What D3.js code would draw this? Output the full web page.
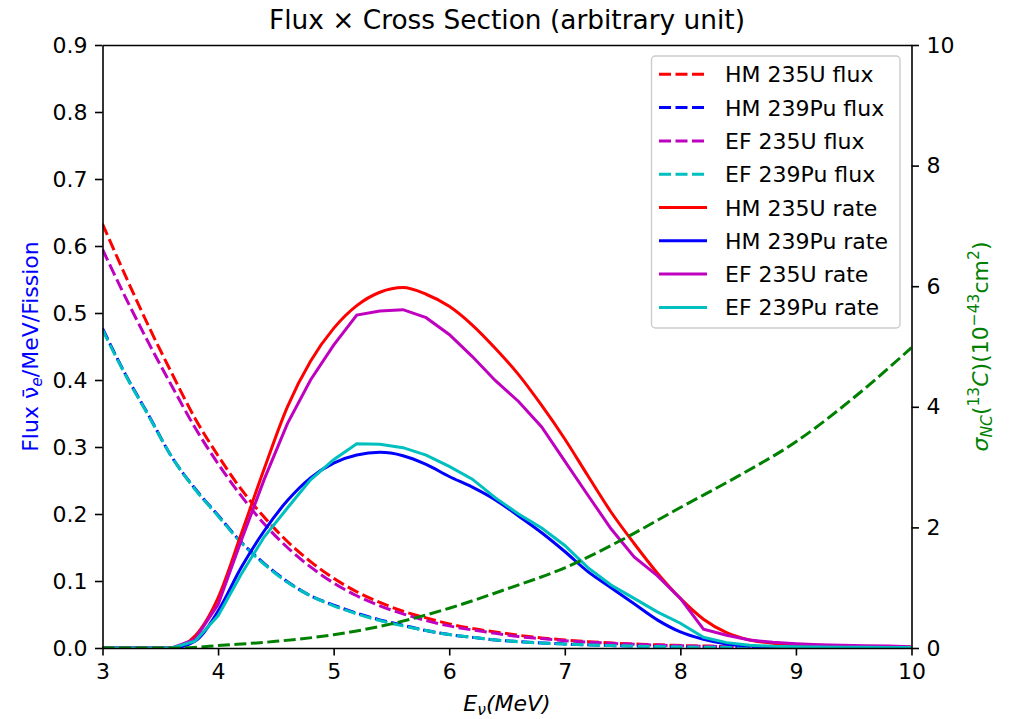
<!DOCTYPE html>
<html>
<head>
<meta charset="utf-8">
<script src="https://cdn.jsdelivr.net/npm/d3@7"></script>
<style>
  body { margin: 0; background: #fff; }
  svg { display: block; font-family: "DejaVu Sans", sans-serif; }
</style>
</head>
<body>
<svg id="chart" width="1009" height="719"></svg>
<script>
// Neutrino energy grid (MeV)
const energies = [3.0, 3.2, 3.4, 3.6, 3.8, 4.0, 4.2, 4.4, 4.6, 4.8, 5.0, 5.2, 5.4, 5.6, 5.8, 6.0,
  6.2, 6.4, 6.6, 6.8, 7.0, 7.2, 7.4, 7.6, 7.8, 8.0, 8.2, 8.4, 8.6, 8.8, 9.0, 9.2, 9.4, 9.6, 9.8, 10.0];

// Antineutrino flux per MeV per fission
const hm235uFlux = [0.633, 0.555, 0.480, 0.410, 0.343, 0.287, 0.237, 0.195, 0.159, 0.129, 0.104, 0.084,
  0.068, 0.055, 0.045, 0.036, 0.029, 0.024, 0.019, 0.015, 0.012, 0.0095, 0.0075, 0.006, 0.0047, 0.0037,
  0.0029, 0.0022, 0.0017, 0.0013, 0.001, 0.0008, 0.0006, 0.0005, 0.0004, 0.0003];
const hm239puFlux = [0.477, 0.408, 0.347, 0.285, 0.238, 0.198, 0.158, 0.126, 0.099, 0.078, 0.064, 0.052,
  0.042, 0.034, 0.026, 0.020, 0.016, 0.012, 0.0095, 0.0075, 0.006, 0.0047, 0.0037, 0.0029, 0.0022, 0.0017,
  0.0013, 0.001, 0.0008, 0.0006, 0.0005, 0.0004, 0.0003, 0.0002, 0.0002, 0.0001];
const ef235uFlux = [0.595, 0.523, 0.455, 0.391, 0.329, 0.275, 0.227, 0.185, 0.150, 0.121, 0.097, 0.078,
  0.063, 0.051, 0.041, 0.033, 0.027, 0.022, 0.017, 0.014, 0.011, 0.0088, 0.007, 0.0055, 0.0043, 0.0034,
  0.0026, 0.002, 0.0016, 0.0012, 0.0009, 0.0007, 0.0006, 0.0005, 0.0004, 0.0003];
const ef239puFlux = [0.475, 0.407, 0.346, 0.285, 0.237, 0.197, 0.157, 0.125, 0.098, 0.078, 0.063, 0.051,
  0.041, 0.033, 0.026, 0.020, 0.016, 0.012, 0.0094, 0.0074, 0.0059, 0.0046, 0.0036, 0.0028, 0.0021, 0.0016,
  0.0012, 0.001, 0.0008, 0.0006, 0.0005, 0.0004, 0.0003, 0.0002, 0.0002, 0.0001];

// Flux x cross section (arbitrary unit)
const hm235uRate = [0, 0, 0, 0, 0.018, 0.075, 0.170, 0.268, 0.360, 0.428, 0.477, 0.511, 0.531, 0.538,
  0.528, 0.510, 0.482, 0.447, 0.408, 0.362, 0.312, 0.257, 0.203, 0.156, 0.112, 0.074, 0.043, 0.023, 0.012,
  0.007, 0.005, 0.004, 0.003, 0.002, 0.0015, 0.001];
const hm239puRate = [0, 0, 0, 0, 0.010, 0.055, 0.120, 0.175, 0.220, 0.254, 0.276, 0.288, 0.292, 0.287,
  0.274, 0.256, 0.240, 0.221, 0.197, 0.172, 0.144, 0.114, 0.090, 0.066, 0.042, 0.024, 0.013, 0.006, 0.003,
  0.0015, 0.001, 0.0008, 0.0006, 0.0005, 0.0004, 0.0003];
const ef235uRate = [0, 0, 0, 0, 0.013, 0.065, 0.160, 0.252, 0.335, 0.400, 0.452, 0.497, 0.503, 0.505,
  0.493, 0.468, 0.435, 0.399, 0.368, 0.330, 0.279, 0.228, 0.178, 0.136, 0.108, 0.074, 0.028, 0.019, 0.012,
  0.0085, 0.0065, 0.005, 0.0042, 0.0035, 0.0028, 0.002];
const ef239puRate = [0, 0, 0, 0, 0.010, 0.048, 0.110, 0.166, 0.209, 0.251, 0.281, 0.305, 0.304, 0.299,
  0.288, 0.271, 0.252, 0.224, 0.200, 0.179, 0.153, 0.120, 0.094, 0.074, 0.054, 0.037, 0.016, 0.008, 0.004,
  0.0025, 0.0018, 0.0015, 0.0012, 0.001, 0.0009, 0.0008];

// NC cross section on 13C (1e-43 cm^2), right axis
const sigmaEnergies = [3.0, 3.5, 3.7, 3.75, 4.0, 4.5, 5.0, 5.5, 6.0, 6.5, 7.0, 7.5, 8.0, 8.5, 9.0, 9.5, 10.0];
const sigmaNC = [0, 0, 0, 0.005, 0.04, 0.11, 0.22, 0.40, 0.66, 0.98, 1.33, 1.80, 2.33, 2.85, 3.42, 4.15, 4.98];

const leftTicks = [0.0, 0.1, 0.2, 0.3, 0.4, 0.5, 0.6, 0.7, 0.8, 0.9];
const rightTicks = [0, 2, 4, 6, 8, 10];
const xTicks = [3, 4, 5, 6, 7, 8, 9, 10];

const series = [
  { label: "HM 235U flux", values: hm235uFlux, color: "#ff0000", dashed: true, curve: d3.curveMonotoneX },
  { label: "HM 239Pu flux", values: hm239puFlux, color: "#0000ff", dashed: true, curve: d3.curveMonotoneX },
  { label: "EF 235U flux", values: ef235uFlux, color: "#bf00bf", dashed: true, curve: d3.curveMonotoneX },
  { label: "EF 239Pu flux", values: ef239puFlux, color: "#00bfbf", dashed: true, curve: d3.curveMonotoneX },
  { label: "HM 235U rate", values: hm235uRate, color: "#ff0000", dashed: false, curve: d3.curveMonotoneX },
  { label: "HM 239Pu rate", values: hm239puRate, color: "#0000ff", dashed: false, curve: d3.curveMonotoneX },
  { label: "EF 235U rate", values: ef235uRate, color: "#bf00bf", dashed: false, curve: d3.curveLinear },
  { label: "EF 239Pu rate", values: ef239puRate, color: "#00bfbf", dashed: false, curve: d3.curveLinear }
];

const svg = d3.select("#chart");
const plotLeft = 102.5, plotRight = 911.5, plotTop = 45, plotBottom = 648;
const x = d3.scaleLinear().domain([3, 10]).range([plotLeft, plotRight]);
const yL = d3.scaleLinear().domain([0, 0.9]).range([plotBottom, plotTop]);
const yR = d3.scaleLinear().domain([0, 10]).range([plotBottom, plotTop]);

svg.append("defs").append("clipPath").attr("id", "plot-clip")
  .append("rect").attr("x", plotLeft).attr("y", plotTop)
  .attr("width", plotRight - plotLeft).attr("height", plotBottom - plotTop);

const dash = "12,4.5";
const lw = 3;
const fontSize = 22;
const plot = svg.append("g").attr("clip-path", "url(#plot-clip)");

series.forEach(s => {
  const line = d3.line().curve(s.curve).x((d, i) => x(energies[i])).y(d => yL(d));
  plot.append("path")
    .attr("d", line(s.values))
    .attr("fill", "none")
    .attr("stroke", s.color)
    .attr("stroke-width", lw)
    .attr("stroke-dasharray", s.dashed ? dash : null);
});

const sigmaLine = d3.line().curve(d3.curveMonotoneX)
  .x((d, i) => x(sigmaEnergies[i])).y(d => yR(d));
plot.append("path")
  .attr("d", sigmaLine(sigmaNC))
  .attr("fill", "none")
  .attr("stroke", "#008000")
  .attr("stroke-width", lw)
  .attr("stroke-dasharray", dash);

// Axes
function styleAxis(g) {
  g.selectAll("path.domain").attr("stroke", "#000").attr("stroke-width", 1.6);
  g.selectAll(".tick line").attr("stroke", "#000").attr("stroke-width", 1.6);
  g.selectAll(".tick text").attr("fill", "#000").attr("font-size", fontSize)
    .attr("font-family", "DejaVu Sans, sans-serif");
}
const tickLen = 7.5, tickPad = 7.5;
svg.append("g").attr("transform", `translate(0,${plotBottom})`)
  .call(d3.axisBottom(x).tickValues(xTicks).tickSize(tickLen).tickPadding(tickPad).tickSizeOuter(0).tickFormat(d3.format("d")))
  .call(styleAxis);
svg.append("g").attr("transform", `translate(0,${plotTop})`)
  .call(d3.axisTop(x).tickValues([]).tickSizeOuter(0))
  .call(styleAxis);
svg.append("g").attr("transform", `translate(${plotLeft},0)`)
  .call(d3.axisLeft(yL).tickValues(leftTicks).tickSize(tickLen).tickPadding(tickPad).tickSizeOuter(0).tickFormat(d3.format(".1f")))
  .call(styleAxis);
svg.append("g").attr("transform", `translate(${plotRight},0)`)
  .call(d3.axisRight(yR).tickValues(rightTicks).tickSize(tickLen).tickPadding(tickPad).tickSizeOuter(0).tickFormat(d3.format("d")))
  .call(styleAxis);

// Title
svg.append("text").attr("x", (plotLeft + plotRight) / 2).attr("y", 29)
  .attr("text-anchor", "middle").attr("font-size", 26.4).attr("fill", "#000")
  .text("Flux \u00d7 Cross Section (arbitrary unit)");

// X label
const xl = svg.append("text").attr("x", (plotLeft + plotRight) / 2).attr("y", 711)
  .attr("text-anchor", "middle").attr("font-size", fontSize).attr("fill", "#000").attr("font-style", "italic");
xl.append("tspan").text("E");
xl.append("tspan").attr("dy", 4).attr("font-size", 15.5).text("\u03bd");
xl.append("tspan").attr("dy", -4).text("(MeV)");

// Left label
const yl = svg.append("text").attr("transform", `translate(37.5,${(plotTop + plotBottom) / 2}) rotate(-90)`)
  .attr("text-anchor", "middle").attr("font-size", fontSize).attr("fill", "#0000ff");
yl.append("tspan").text("Flux \u03bd\u0304");
yl.append("tspan").attr("dy", 4).attr("font-size", 15.5).attr("font-style", "italic").text("e");
yl.append("tspan").attr("dy", -4).text("/MeV/Fission");

// Right label
const yr = svg.append("text").attr("transform", `translate(988,${(plotTop + plotBottom) / 2}) rotate(-90)`)
  .attr("text-anchor", "middle").attr("font-size", fontSize).attr("fill", "#008000");
yr.append("tspan").attr("font-style", "italic").text("\u03c3");
yr.append("tspan").attr("dy", 4).attr("font-size", 15.5).attr("font-style", "italic").text("NC");
yr.append("tspan").attr("dy", -4).text("(");
yr.append("tspan").attr("dy", -9).attr("font-size", 15.5).text("13");
yr.append("tspan").attr("dy", 9).attr("font-style", "italic").text("C");
yr.append("tspan").text(")(10");
yr.append("tspan").attr("dy", -9).attr("font-size", 15.5).text("\u221243");
yr.append("tspan").attr("dy", 9).text("cm");
yr.append("tspan").attr("dy", -9).attr("font-size", 15.5).text("2");
yr.append("tspan").attr("dy", 9).text(")");

// Legend
const lg = svg.append("g");
lg.append("rect").attr("x", 651.5).attr("y", 56).attr("width", 248.5).attr("height", 272)
  .attr("rx", 4).attr("fill", "#fff").attr("fill-opacity", 0.8)
  .attr("stroke", "#cccccc").attr("stroke-width", 1.4);
series.forEach((s, i) => {
  const cy = 74.3 + i * 33.3;
  lg.append("line").attr("x1", 659).attr("x2", 707).attr("y1", cy).attr("y2", cy)
    .attr("stroke", s.color).attr("stroke-width", lw)
    .attr("stroke-dasharray", s.dashed ? dash : null);
  lg.append("text").attr("x", 725).attr("y", cy + 8).attr("font-size", fontSize).attr("fill", "#000")
    .text(s.label);
});
</script>
</body>
</html>
